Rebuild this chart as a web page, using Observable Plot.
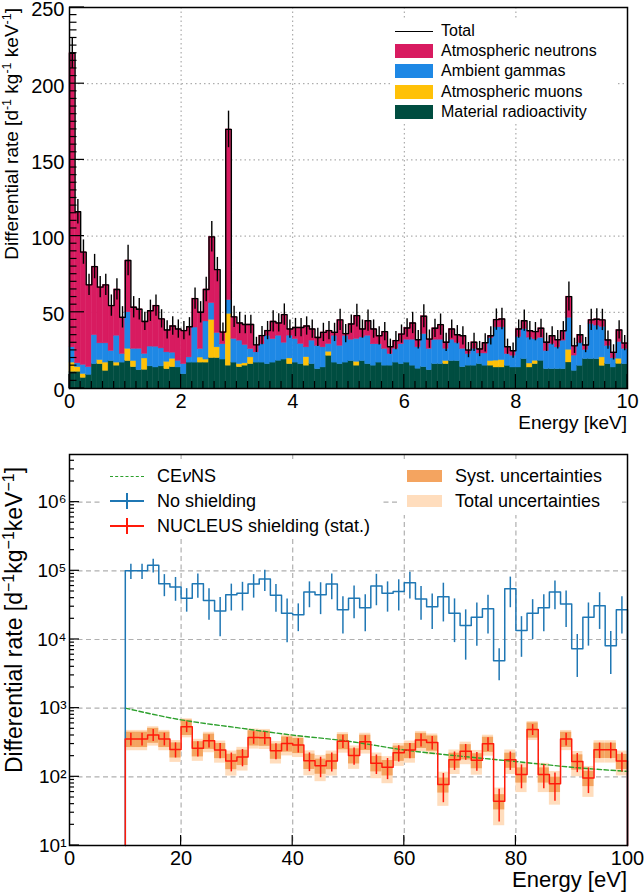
<!DOCTYPE html>
<html><head><meta charset="utf-8">
<script src="https://cdn.jsdelivr.net/npm/d3@7"></script>
<script src="https://cdn.jsdelivr.net/npm/@observablehq/plot@0.6"></script>
<style>
body{margin:0;background:#fff;}
#wrap{position:relative;width:644px;height:892px;overflow:hidden;font-family:"Liberation Sans",Arial,Helvetica,sans-serif;color:#000;}
#wrap svg{display:block;}
.abs{position:absolute;white-space:nowrap;}
</style></head><body><div id="wrap"></div>
<script>
// ================= TOP PANEL DATA (0.1 keV bins, 0–10 keV) =================
const topBinWidth = 0.1;
const topXTicks = [0, 2, 4, 6, 8, 10];
const topYTicks = [0, 50, 100, 150, 200, 250];
const compNames = ["Material radioactivity", "Atmospheric muons", "Ambient gammas", "Atmospheric neutrons"];
const compColors = ["#004D40", "#FFC107", "#1E88E5", "#D81B60"];
const material = [
 11, 11, 7, 9, 16, 16, 11.6, 18, 15, 17,
 18, 14, 12, 12.3, 14.5, 13.8, 14.5, 12.7, 14, 13.8,
 9.4, 17, 17, 17, 17, 20, 20, 19, 15, 17,
 14, 15, 16, 17, 17, 16, 17, 18.2, 19, 16,
 17, 16, 15, 16, 12.7, 13.8, 21.5, 17, 16, 17,
 18, 15, 18, 16, 15, 17, 15, 15, 17, 16,
 17, 15, 13, 14, 12, 16, 16, 16, 18, 18,
 14, 15, 15, 16, 15, 15, 13.8, 13.8, 14.9, 13.8,
 13.8, 19.3, 13.8, 16, 18.2, 12.7, 12.7, 12.7, 12.7, 17.1,
 11.6, 14.9, 19.3, 19.3, 19.3, 14.9, 16, 13.8, 16.2, 16];
const muons = [
 6, 3, 2.5, 0, 0, 2.6, 5.4, 0, 2, 0,
 8, 4, 0, 7.4, 0, 0, 0, 4.8, 5.5, 0,
 0, 0, 0, 3.3, 2, 25, 7, 0, 34, 0,
 2, 1.5, 4.4, 0, 0, 0, 0, 0, 0, 3.7,
 0, 0, 5.5, 0, 0, 0, 2.6, 0, 0, 0,
 0, 2.5, 0, 0, 0, 0, 0, 0, 0, 0,
 0, 0, 0, 0, 0, 0, 0, 2, 0, 0,
 0, 0, 0, 0, 0, 3, 4.5, 4.8, 0, 0,
 0, 0, 2.6, 2.2, 0, 0, 0, 0, 0, 8.3,
 0, 0, 0, 0, 0, 5.5, 0, 0, 3.3, 0];
const gammas = [
 10, 2.5, 6, 5, 19, 11, 12.6, 6.6, 17.6, 5.6,
 24, 8, 14, 3, 13, 13.6, 11.8, 6.2, 4, 4.4,
 6.6, 3.4, 23, 5.6, 25, 11, 9.4, 10, 9, 15.5,
 15.4, 12, 5.5, 6.7, 12, 18.6, 15.4, 16.4, 11, 15,
 15.4, 13.2, 6.5, 15.4, 15.3, 13.2, 5, 17.6, 12, 17.6,
 14, 15, 15.5, 18.6, 14, 12, 11, 7.6, 9, 13,
 15, 17, 14, 21.7, 14, 16, 16, 8, 14, 12,
 12, 7.6, 11, 7, 8, 15, 21.8, 21.5, 7.7, 7.7,
 20, 19.7, 17, 14, 15, 12, 16.5, 14.3, 18.7, 21,
 10, 15, 6, 23, 22, 20, 12, 6, 11, 10];
const neutrons = [
 193, 99.5, 74, 54, 45, 36.9, 38.4, 29.8, 30.4, 24.1,
 34, 27.3, 26, 21.3, 23.5, 27, 19.4, 14.7, 17.5, 20.8,
 22, 20.1, 19, 24.1, 21, 43.5, 41.6, 8, 112, 14.5,
 11.6, 13.5, 16.1, 4.9, 5.7, 3.4, 11.6, 8.4, 18.5, 4.3,
 7.6, 10.8, 14, 7.6, 5.5, 9.8, 8.9, 2.2, 17, 1.4,
 10.3, 15.3, 5.5, 9.9, 10, 5.6, 11.3, 4.8, 5.4, 6.7,
 7.7, 11, 5, 11.7, 6.4, 7.5, 9.9, 4.3, 7, 5.3,
 8.6, 2.6, 4.3, 2.9, 7, 1.6, 5.1, 5.5, 4.8, 3.3,
 5.2, 5.5, 4.5, 5.1, 6.3, 5.6, 5.4, 5, 6.5, 13.9,
 6.4, 5.4, 3.2, 2.7, 4.1, 4.6, 3.8, 3.9, 7.9, 3.8];
const totalErr = [
 10, 8, 8, 7, 8, 7, 7, 7, 7, 7,
 10, 7, 7, 6, 7, 7, 6, 6, 6, 6,
 6, 6, 7, 7, 8, 10, 8, 6, 12, 7,
 7, 6, 6, 5, 6, 6, 7, 6, 7, 6,
 6, 6, 6, 6, 6, 6, 6, 6, 7, 6,
 6, 7.5, 6, 7, 6, 6, 6, 5, 6, 6,
 6, 7, 6, 7.5, 6, 6, 7, 6, 6, 6,
 6, 5, 6, 5, 6, 6, 7, 7, 5, 5,
 6, 7, 6, 6, 6, 6, 6, 6, 6, 9.5,
 5, 6, 5, 7, 7, 7, 6, 5, 6, 5];

// ================= BOTTOM PANEL DATA (2 eV bins, 10–100 eV) =================
const botBinWidth = 2;
const botXTicks = [0, 20, 40, 60, 80, 100];
const botYTicks = [1e1, 1e2, 1e3, 1e4, 1e5, 1e6];
const binLowEV = d3.range(10, 100, botBinWidth);
const noShield = [
 1.0e5, 1.0e5, 1.2e5, 6.5e4, 5.8e4,
 4.0e4, 6.5e4, 3.7e4, 2.6e4, 4.5e4,
 4.7e4, 6.4e4, 7.6e4, 4.4e4, 2.4e4,
 2.3e4, 4.9e4, 4.5e4, 6.4e4, 2.7e4,
 4.0e4, 2.9e4, 6.0e4, 4.7e4, 5.0e4,
 6.7e4, 3.9e4, 3.0e4, 4.2e4, 2.4e4,
 1.6e4, 2.1e4, 2.8e4, 4.9e3, 5.5e4,
 1.35e4, 2.4e4, 2.9e4, 4.9e4, 3.3e4,
 7.3e3, 2.1e4, 3.1e4, 8.1e3, 2.7e4];
const noShieldErr = [
 2.5e4, 2.5e4, 2.7e4, 2.3e4, 2.2e4,
 1.5e4, 2.5e4, 1.8e4, 1.5e4, 1.9e4,
 2.1e4, 2.4e4, 2.6e4, 1.9e4, 1.5e4,
 1.0e4, 2.0e4, 2.2e4, 2.6e4, 1.5e4,
 2.0e4, 1.6e4, 2.9e4, 2.2e4, 2.4e4,
 2.8e4, 2.0e4, 1.6e4, 2.4e4, 1.5e4,
 1.1e4, 1.3e4, 1.6e4, 2.4e3, 2.6e4,
 8.0e3, 1.4e4, 1.6e4, 2.2e4, 1.8e4,
 4.5e3, 1.3e4, 1.7e4, 5.0e3, 1.5e4];
const shielded = [
 357, 357, 408, 357, 250,
 535, 260, 335, 245, 170,
 195, 375, 370, 240, 305,
 290, 171, 145, 170, 330,
 205, 323, 158, 138, 224,
 245, 345, 315, 77, 177,
 235, 174, 302, 44, 177,
 108, 488, 108, 79, 357,
 167, 96, 247, 247, 170];
const shieldedStat = [
 75, 75, 80, 75, 62,
 95, 65, 72, 62, 52,
 55, 77, 77, 62, 70,
 68, 52, 48, 52, 72,
 57, 72, 50, 47, 60,
 62, 74, 70, 35, 53,
 61, 53, 69, 22, 53,
 41, 88, 41, 35, 75,
 52, 39, 63, 63, 52];
const shieldedSyst = [
 90, 90, 100, 90, 62,
 135, 65, 84, 61, 43,
 49, 94, 92, 60, 76,
 72, 43, 36, 43, 82,
 51, 81, 40, 35, 56,
 61, 86, 79, 19, 44,
 59, 43, 75, 11, 44,
 27, 122, 27, 20, 89,
 42, 24, 62, 62, 42];
const cevnsE = [10, 20, 30, 40, 50, 60, 70, 80, 90, 100];
const cevnsRate = [1000, 676, 520, 405, 330, 246, 200, 167, 138, 120];

const FONT = '"Liberation Sans", Arial, Helvetica, sans-serif';

// ---------- build top tables ----------
const stackRows = [], topBins = [], totalLine = [{x: 0, y: 0}];
const compArrays = [material, muons, gammas, neutrons];
for (let i = 0; i < material.length; i++) {
  const x1 = i * topBinWidth, x2 = (i + 1) * topBinWidth;
  let base = 0;
  compArrays.forEach((arr, k) => {
    const v = arr[i];
    if (v > 0) stackRows.push({x1, x2, y1: base, y2: base + v, comp: compNames[k]});
    base += v;
  });
  topBins.push({xc: (x1 + x2) / 2, lo: base - totalErr[i], hi: base + totalErr[i]});
  totalLine.push({x: x1, y: base});
  if (i === material.length - 1) totalLine.push({x: x2, y: base});
}
const topXMax = material.length * topBinWidth;

const topPlot = Plot.plot({
  width: 644, height: 430,
  marginTop: 7, marginBottom: 42, marginLeft: 69, marginRight: 17,
  style: {fontFamily: FONT, fontSize: "20px", background: "white", color: "black"},
  x: {domain: [0, topXMax]},
  y: {domain: [0, 250]},
  color: {domain: compNames, range: compColors},
  marks: [
    Plot.gridY(topYTicks.slice(1, -1), {stroke: "#9a9a9a", strokeOpacity: 1, strokeDasharray: "1.5,3", strokeWidth: 1}),
    Plot.gridX(topXTicks.slice(1, -1), {stroke: "#9a9a9a", strokeOpacity: 1, strokeDasharray: "1.5,3", strokeWidth: 1}),
    Plot.rect(stackRows, {x1: "x1", x2: "x2", y1: "y1", y2: "y2", fill: "comp", stroke: "comp", strokeWidth: 0.4}),
    Plot.line(totalLine, {x: "x", y: "y", curve: "step-after", stroke: "black", strokeWidth: 1.4}),
    Plot.ruleX(topBins, {x: "xc", y1: "lo", y2: "hi", stroke: "black", strokeWidth: 1.4}),
    Plot.axisX({ticks: topXTicks, tickSize: 0, tickPadding: 5, fontSize: 20, tickFormat: d => String(d), label: null}),
    Plot.axisY({ticks: topYTicks, tickSize: 0, tickPadding: 5, fontSize: 20, dy: 2.5, label: null}),
    Plot.frame({stroke: "black", strokeWidth: 1.5})
  ]
});

// ---------- build bottom tables ----------
const blueRows = binLowEV.map((e, i) => ({x1: e, x2: e + botBinWidth, xc: e + botBinWidth / 2,
  v: noShield[i], lo: noShield[i] - noShieldErr[i], hi: noShield[i] + noShieldErr[i]}));
const redRows = binLowEV.map((e, i) => {
  const v = shielded[i], st = shieldedStat[i], sy = shieldedSyst[i], tot = Math.hypot(st, sy);
  return {x1: e, x2: e + botBinWidth, xc: e + botBinWidth / 2, v,
    lo: v - st, hi: v + st, sLo: v - sy, sHi: v + sy, tLo: Math.max(v - tot, 10), tHi: v + tot};
});
const yFloor = 10;
function stepLine(rows) {
  const pts = [{x: rows[0].x1, y: yFloor}];
  rows.forEach(r => pts.push({x: r.x1, y: r.v}));
  const last = rows[rows.length - 1];
  pts.push({x: last.x2, y: last.v});
  pts.push({x: last.x2, y: yFloor});
  return pts;
}
const cevns = cevnsE.map((e, i) => ({x: e, y: cevnsRate[i]}));
const supDigits = {1: "¹", 2: "²", 3: "³", 4: "⁴", 5: "⁵", 6: "⁶"};
const BLUE = "#1f77b4", RED = "#ff1a0a", GREEN = "#2ca02c", SYST = "#F4A460", TOT = "#FFDDBD";

const botPlot = Plot.plot({
  width: 644, height: 462,
  marginTop: 24, marginBottom: 47, marginLeft: 69, marginRight: 17,
  style: {fontFamily: FONT, fontSize: "20px", background: "transparent", color: "black"},
  x: {domain: [0, 100]},
  y: {type: "log", domain: [10, 4.94e6]},
  marks: [
    Plot.gridX(botXTicks.slice(1, -1), {stroke: "#b0b0b0", strokeOpacity: 1, strokeDasharray: "5,3.5", strokeWidth: 1.2}),
    Plot.gridY(botYTicks.slice(1), {stroke: "#b0b0b0", strokeOpacity: 1, strokeDasharray: "5,3.5", strokeWidth: 1.2}),
    Plot.rect(redRows, {x1: "x1", x2: "x2", y1: "tLo", y2: "tHi", fill: TOT}),
    Plot.rect(redRows, {x1: "x1", x2: "x2", y1: "sLo", y2: "sHi", fill: SYST}),
    Plot.line(cevns, {x: "x", y: "y", curve: "monotone-x", stroke: GREEN, strokeWidth: 1.4, strokeDasharray: "4.5,2.5"}),
    Plot.line(stepLine(blueRows), {x: "x", y: "y", curve: "step-after", stroke: BLUE, strokeWidth: 1.5}),
    Plot.ruleX(blueRows, {x: "xc", y1: "lo", y2: "hi", stroke: BLUE, strokeWidth: 1.5}),
    Plot.line(stepLine(redRows), {x: "x", y: "y", curve: "step-after", stroke: RED, strokeWidth: 1.5}),
    Plot.ruleX(redRows, {x: "xc", y1: "lo", y2: "hi", stroke: RED, strokeWidth: 1.5}),
    Plot.axisX({ticks: botXTicks, tickSize: 0, tickPadding: 5, fontSize: 20, tickFormat: d => String(d), label: null}),
    Plot.axisY({ticks: botYTicks, tickSize: 0, tickPadding: 3, fontSize: 19,
      tickFormat: d => "10" + supDigits[Math.round(Math.log10(d))], label: null}),
    Plot.frame({stroke: "black", strokeWidth: 1.5})
  ]
});

// ---------- inward ticks using the plots' own scales ----------
function addTicks(plot, spec) {
  const sx = plot.scale("x"), sy = plot.scale("y");
  const xLeft = sx.range[0], yBottom = sy.range[0];
  const g = d3.select(plot).append("g").attr("stroke", "black").attr("stroke-width", 1.2);
  spec.yMajor.forEach(v => { const y = sy.apply(v); g.append("line").attr("x1", xLeft).attr("x2", xLeft + spec.yMajorLen).attr("y1", y).attr("y2", y); });
  spec.yMinor.forEach(v => { const y = sy.apply(v); g.append("line").attr("x1", xLeft).attr("x2", xLeft + spec.yMinorLen).attr("y1", y).attr("y2", y); });
  spec.xMajor.forEach(v => { const x = sx.apply(v); g.append("line").attr("x1", x).attr("x2", x).attr("y1", yBottom).attr("y2", yBottom - spec.xMajorLen); });
  spec.xMinor.forEach(v => { const x = sx.apply(v); g.append("line").attr("x1", x).attr("x2", x).attr("y1", yBottom).attr("y2", yBottom - spec.xMinorLen); });
}
addTicks(topPlot, {
  yMajor: topYTicks, yMajorLen: 15,
  yMinor: d3.range(5, 250, 5).filter(v => v % 50 !== 0), yMinorLen: 7.5,
  xMajor: topXTicks, xMajorLen: 14,
  xMinor: d3.range(1, 50).map(k => k * 0.2).filter((v, k) => (k + 1) % 10 !== 0), xMinorLen: 7
});
const logMinor = [];
for (let e = 1; e <= 6; e++) for (let m = 2; m <= 9; m++) { const v = m * Math.pow(10, e); if (v < 4.94e6) logMinor.push(v); }
addTicks(botPlot, {
  yMajor: botYTicks, yMajorLen: 10,
  yMinor: logMinor, yMinorLen: 5,
  xMajor: botXTicks.slice(1, -1), xMajorLen: 10,
  xMinor: [], xMinorLen: 0
});

// ---------- axis titles (real text) ----------
function titleWithSups(svg, parts, attrs, supSize, supShift) {
  const t = d3.select(svg).append("text");
  Object.entries(attrs).forEach(([k, v]) => t.attr(k, v));
  let raised = false;
  parts.forEach(p => {
    if (p.sup) {
      t.append("tspan").attr("dy", -supShift).attr("font-size", supSize).text(p.sup);
      raised = true;
    } else {
      const s = t.append("tspan").text(p.t);
      if (raised) { s.attr("dy", supShift); raised = false; }
    }
  });
  return t;
}
titleWithSups(topPlot,
  [{t: "Differential rate [d"}, {sup: "-1"}, {t: " kg"}, {sup: "-1"}, {t: " keV"}, {sup: "-1"}, {t: "]"}],
  {transform: "translate(18,8) rotate(-90)", "text-anchor": "end", "font-size": 19, "font-family": FONT, fill: "black"},
  12.5, 7);

titleWithSups(botPlot,
  [{t: "Differential rate [d"}, {sup: "\u22121"}, {t: "kg"}, {sup: "\u22121"}, {t: "keV"}, {sup: "\u22121"}, {t: "]"}],
  {transform: "translate(22,190) rotate(-90)", "text-anchor": "middle", "font-size": 23, "font-family": FONT, fill: "black"},
  16, 8);
d3.select(botPlot).append("text").attr("x", 627).attr("y", 457).attr("text-anchor", "end")
  .attr("font-size", 22).attr("font-family", FONT).text("Energy [eV]");

// ---------- assemble ----------
const wrap = document.getElementById("wrap");
wrap.appendChild(topPlot);
wrap.appendChild(botPlot);

function abs(html, css) {
  const d = document.createElement("div");
  d.className = "abs";
  d.style.cssText = css;
  d.innerHTML = html;
  wrap.appendChild(d);
  return d;
}
// top x-axis title
abs("Energy [keV]", "right:17px;top:412px;font-size:19px;line-height:22px;");
// top legend
abs("", "left:390px;top:20px;width:228px;height:102px;background:#fff;");
abs("", "left:395px;top:30.5px;width:38px;height:0;border-top:1px solid #000;");
abs("Total", "left:441px;top:21px;font-size:16px;line-height:20px;");
const topLeg = [["Atmospheric neutrons", "#D81B60", 51], ["Ambient gammas", "#1E88E5", 71], ["Atmospheric muons", "#FFC107", 91.7], ["Material radioactivity", "#004D40", 112.3]];
topLeg.forEach(([name, col, cy]) => {
  abs("", `left:395px;top:${cy - 7}px;width:38px;height:14px;background:${col};`);
  abs(name, `left:441px;top:${cy - 10}px;font-size:16px;line-height:20px;`);
});
// bottom legend (left)
abs("", "left:102px;top:459px;width:278px;height:80px;background:#fff;");
abs("", `left:110px;top:475.5px;width:34px;height:0;border-top:1.5px dashed ${GREEN};`);
abs('CE<span style="font-style:italic">ν</span>NS', "left:157px;top:465px;font-size:18px;line-height:22px;");
[["No shielding", BLUE, 501], ["NUCLEUS shielding (stat.)", RED, 526]].forEach(([name, col, cy]) => {
  abs("", `left:110px;top:${cy - 0.75}px;width:34px;height:1.5px;background:${col};`);
  abs("", `left:126.3px;top:${cy - 8}px;width:1.5px;height:16px;background:${col};`);
  abs(name, `left:157px;top:${cy - 11}px;font-size:18px;line-height:22px;`);
});
// bottom legend (right)
abs("", "left:400px;top:461px;width:222px;height:54px;background:#fff;");
abs("", `left:407px;top:470px;width:35px;height:12px;background:${SYST};`);
abs("Syst. uncertainties", "left:455px;top:465px;font-size:18px;line-height:22px;");
abs("", `left:407px;top:495px;width:35px;height:12px;background:${TOT};`);
abs("Total uncertainties", "left:455px;top:490px;font-size:18px;line-height:22px;");
</script>
</body></html>
